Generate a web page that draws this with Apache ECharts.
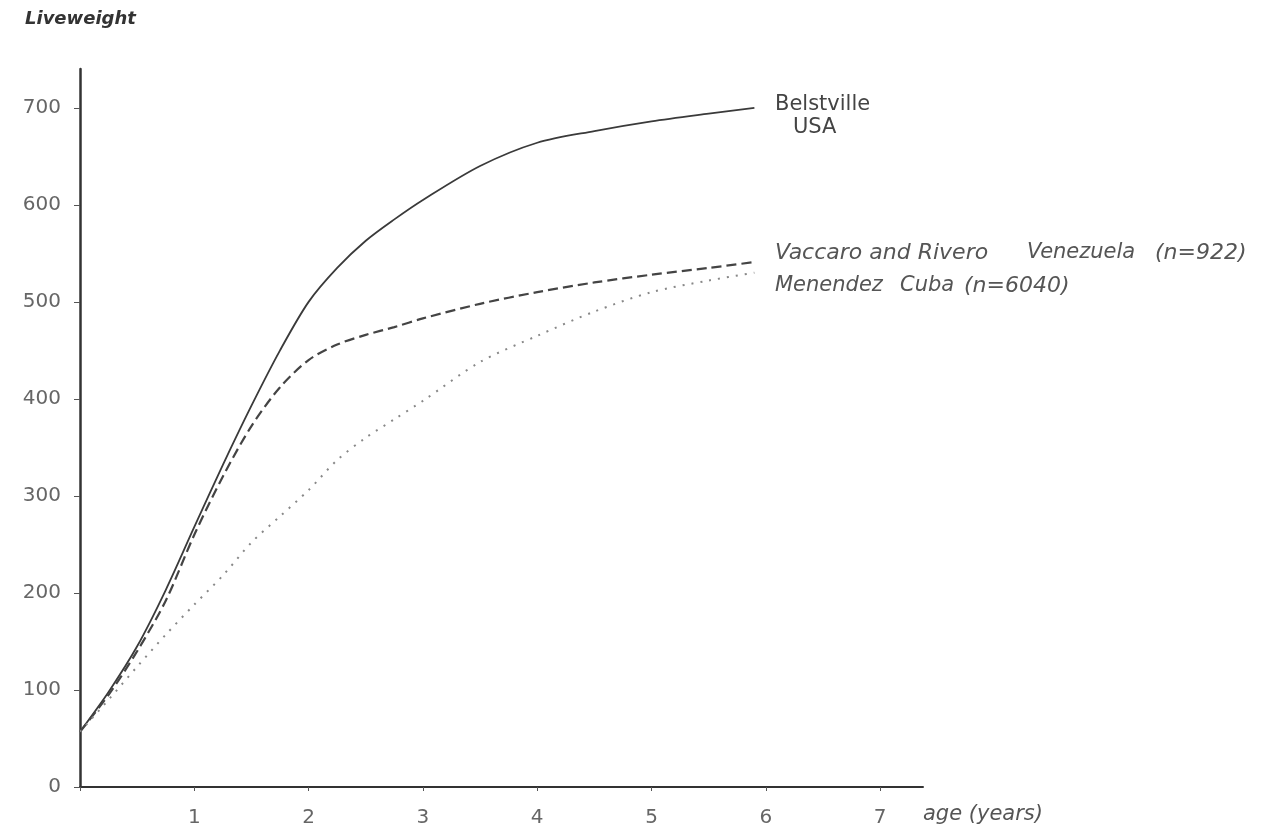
<!DOCTYPE html>
<html>
<head>
<meta charset="utf-8">
<script src="https://cdn.jsdelivr.net/npm/echarts@6/dist/echarts.min.js"></script>
<style>
html,body{margin:0;padding:0;background:#fff;}
#chart{width:1262px;height:829px;}
</style>
</head>
<body>
<div id="chart"></div>
<script>
// ages in years
var ages = [0, 0.25, 0.5, 0.75, 1, 1.25, 1.5, 1.75, 2, 2.25, 2.5, 2.75, 3, 3.5, 4, 4.5, 5, 5.5, 5.9];
// liveweight (kg)
var belstville = [57, 98, 145, 203, 268, 332, 393, 450, 500, 535, 563, 585, 605, 640, 664, 676, 686, 694, 700];
var vaccaroRivero = [57, 95, 140, 192, 260, 320, 372, 412, 440, 456, 466, 474, 483, 498, 510, 520, 528, 535, 541];
var menendez = [57, 90, 124, 157, 188, 218, 252, 279, 306, 337, 360, 379, 398, 438, 465, 490, 510, 522, 530];

var xTicks = [0, 1, 2, 3, 4, 5, 6, 7];
var xTickLabels = ['', '1', '2', '3', '4', '5', '6', '7'];
var yTicks = [0, 100, 200, 300, 400, 500, 600, 700];
var yTickLabels = ['0', '100', '200', '300', '400', '500', '600', '700'];

function pairs(xs, ys) { return xs.map(function (x, i) { return [x, ys[i]]; }); }
function lookup(ticks, labels) {
  return function (v) { for (var i = 0; i < ticks.length; i++) { if (Math.abs(ticks[i] - v) < 1e-6) return labels[i]; } return ''; };
}

var font = '"DejaVu Sans", "Liberation Sans", sans-serif';
var chart = echarts.init(document.getElementById('chart'));
chart.setOption({
  backgroundColor: '#fff',
  animation: false,
  grid: { left: 80, right: 339, top: 69, bottom: 42, containLabel: false },
  xAxis: {
    type: 'value', min: 0, max: 7.375, interval: 1,
    axisLine: { show: true, lineStyle: { color: '#333', width: 2 } },
    axisTick: { show: true, length: 4, customValues: xTicks, lineStyle: { color: '#555', width: 1 } },
    splitLine: { show: false },
    axisLabel: {
      margin: 21, color: '#666', fontSize: 20, fontFamily: font, customValues: xTicks,
      formatter: lookup(xTicks, xTickLabels)
    }
  },
  yAxis: {
    type: 'value', min: 0, max: 740, interval: 100,
    axisLine: { show: true, lineStyle: { color: '#333', width: 2.5 } },
    axisTick: { show: true, length: 6, customValues: yTicks, lineStyle: { color: '#555', width: 1 } },
    splitLine: { show: false },
    axisLabel: {
      margin: 19, color: '#666', fontSize: 20, fontFamily: font, customValues: yTicks,
      padding: [0, 0, 8, 0],
      formatter: lookup(yTicks, yTickLabels)
    }
  },
  series: [
    { name: 'Belstville USA', type: 'line', data: pairs(ages, belstville), smooth: 0.3, showSymbol: false,
      lineStyle: { color: '#3a3a3a', width: 1.8, type: 'solid' } },
    { name: 'Vaccaro and Rivero Venezuela (n=922)', type: 'line', data: pairs(ages, vaccaroRivero), smooth: 0.3, showSymbol: false,
      lineStyle: { color: '#444', width: 2.2, type: [10, 5] } },
    { name: 'Menendez Cuba (n=6040)', type: 'line', data: pairs(ages, menendez), smooth: 0.3, showSymbol: false,
      lineStyle: { color: '#888', width: 2, type: [2, 7] } }
  ],
  graphic: [
    { type: 'text', x: 25, y: 19, style: { text: 'Liveweight', font: 'italic bold 18px ' + font, fill: '#333', verticalAlign: 'middle' } },
    { type: 'text', x: 923, y: 815, style: { text: 'age (years)', font: 'italic 21px ' + font, fill: '#555', verticalAlign: 'middle' } },
    { type: 'text', x: 775, y: 105, style: { text: 'Belstville', font: '21px ' + font, fill: '#444', verticalAlign: 'middle' } },
    { type: 'text', x: 793, y: 128, style: { text: 'USA', font: '21px ' + font, fill: '#444', verticalAlign: 'middle' } },
    { type: 'text', x: 775, y: 253, style: { text: 'Vaccaro and Rivero', font: 'italic 22px ' + font, fill: '#555', verticalAlign: 'middle' } },
    { type: 'text', x: 1027, y: 253, style: { text: 'Venezuela', font: 'italic 21px ' + font, fill: '#555', verticalAlign: 'middle' } },
    { type: 'text', x: 1155, y: 253, style: { text: '(n=922)', font: 'italic 22px ' + font, fill: '#555', verticalAlign: 'middle' } },
    { type: 'text', x: 775, y: 286, style: { text: 'Menendez', font: 'italic 21px ' + font, fill: '#555', verticalAlign: 'middle' } },
    { type: 'text', x: 900, y: 286, style: { text: 'Cuba', font: 'italic 21px ' + font, fill: '#555', verticalAlign: 'middle' } },
    { type: 'text', x: 964, y: 286, style: { text: '(n=6040)', font: 'italic 22px ' + font, fill: '#555', verticalAlign: 'middle' } }
  ]
});
</script>
</body>
</html>
